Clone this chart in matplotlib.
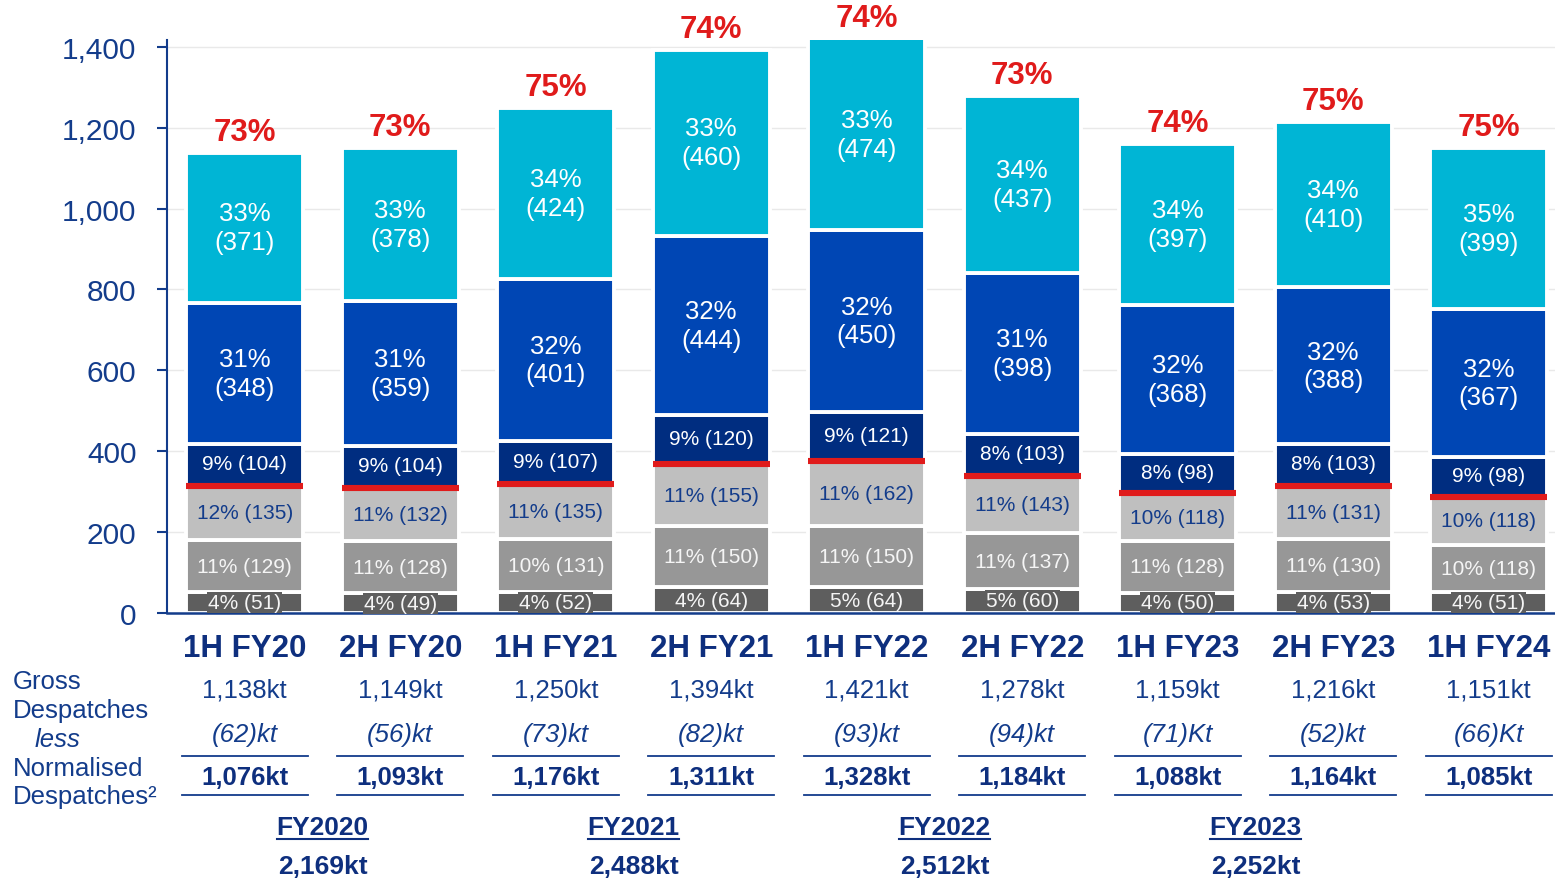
import matplotlib
matplotlib.use("Agg")
import matplotlib.pyplot as plt
import matplotlib.transforms as mtrans
import numpy as np

plt.rcParams['font.family'] = ['Liberation Sans', 'DejaVu Sans']

categories = ['1H FY20', '2H FY20', '1H FY21', '2H FY21', '1H FY22',
              '2H FY22', '1H FY23', '2H FY23', '1H FY24']
dark_gray_vals = [51, 49, 52, 64, 64, 60, 50, 53, 51]
dark_gray_pct = [4, 4, 4, 4, 5, 5, 4, 4, 4]
mid_gray_vals = [129, 128, 131, 150, 150, 137, 128, 130, 118]
mid_gray_pct = [11, 11, 10, 11, 11, 11, 11, 11, 10]
light_gray_vals = [135, 132, 135, 155, 162, 143, 118, 131, 118]
light_gray_pct = [12, 11, 11, 11, 11, 11, 10, 11, 10]
navy_vals = [104, 104, 107, 120, 121, 103, 98, 103, 98]
navy_pct = [9, 9, 9, 9, 9, 8, 8, 8, 9]
blue_vals = [348, 359, 401, 444, 450, 398, 368, 388, 367]
blue_pct = [31, 31, 32, 32, 32, 31, 32, 32, 32]
cyan_vals = [371, 378, 424, 460, 474, 437, 397, 410, 399]
cyan_pct = [33, 33, 34, 33, 33, 34, 34, 34, 35]
top_pct = [73, 73, 75, 74, 74, 73, 74, 75, 75]

gross = ['1,138kt', '1,149kt', '1,250kt', '1,394kt', '1,421kt',
         '1,278kt', '1,159kt', '1,216kt', '1,151kt']
less_vals = ['(62)kt', '(56)kt', '(73)kt', '(82)kt', '(93)kt',
             '(94)kt', '(71)Kt', '(52)kt', '(66)Kt']
normalised = ['1,076kt', '1,093kt', '1,176kt', '1,311kt', '1,328kt',
              '1,184kt', '1,088kt', '1,164kt', '1,085kt']
fy_labels = ['FY2020', 'FY2021', 'FY2022', 'FY2023']
fy_totals = ['2,169kt', '2,488kt', '2,512kt', '2,252kt']
fy_pairs = [(0, 1), (2, 3), (4, 5), (6, 7)]
yticks = [0, 200, 400, 600, 800, 1000, 1200, 1400]

NAVY = '#133C8B'
NAVY_D = '#0E2F7E'
C_DG = '#5E5E5E'
C_MG = '#979797'
C_LG = '#BFBFBF'
C_NV = '#002D80'
C_BL = '#0046B4'
C_CY = '#00B5D5'
RED = '#E01B1B'

W, H = 1555, 879
fig = plt.figure(figsize=(W / 100, H / 100), dpi=100)
ax = fig.add_axes([167 / W, (H - 614) / H, (W - 167) / W, (614 - 41) / H])

x = np.arange(len(categories))
bw = 0.75
layers = [
    (dark_gray_vals, dark_gray_pct, C_DG),
    (mid_gray_vals, mid_gray_pct, C_MG),
    (light_gray_vals, light_gray_pct, C_LG),
    (navy_vals, navy_pct, C_NV),
    (blue_vals, blue_pct, C_BL),
    (cyan_vals, cyan_pct, C_CY),
]
bottom = np.zeros(len(x))
bottoms = []
for vals, pcts, col in layers:
    v = np.array(vals, dtype=float)
    ax.bar(x, v, bw, bottom=bottom, color=col, edgecolor='white',
           linewidth=2.8, zorder=2)
    bottoms.append(bottom.copy())
    bottom = bottom + v
totals = bottom

# red separator line at top of light-gray segment
sep = bottoms[3]
for xi, yi in zip(x, sep):
    ax.plot([xi - bw / 2, xi + bw / 2], [yi, yi], color=RED, lw=4.4,
            solid_capstyle='butt', zorder=3)

# segment labels
for li, (vals, pcts, col) in enumerate(layers):
    for i in range(len(x)):
        yc = bottoms[li][i] + vals[i] / 2
        if li == 0:
            ax.text(x[i], yc, f'{pcts[i]}% ({vals[i]})', ha='center', va='center',
                    fontsize=15, color='#F5F5F5', zorder=5,
                    bbox=dict(boxstyle='square,pad=0.05', fc=C_DG, ec='none'))
        elif li == 1:
            ax.text(x[i], yc, f'{pcts[i]}% ({vals[i]})', ha='center', va='center',
                    fontsize=15, color='#F5F5F5', zorder=5)
        elif li == 2:
            ax.text(x[i], yc, f'{pcts[i]}% ({vals[i]})', ha='center', va='center',
                    fontsize=15, color=NAVY, zorder=5)
        elif li == 3:
            ax.text(x[i], yc + 3, f'{pcts[i]}% ({vals[i]})', ha='center', va='center',
                    fontsize=15, color='white', zorder=5)
        else:
            ax.text(x[i], yc, f'{pcts[i]}%\n({vals[i]})', ha='center', va='center',
                    fontsize=18.5, color='white', linespacing=1.25, zorder=5)

for i in range(len(x)):
    ax.annotate(f'{top_pct[i]}%', (x[i], totals[i]), xytext=(0, 15),
                textcoords='offset points', ha='center', va='center',
                fontsize=22.5, fontweight='bold', color=RED, zorder=5,
                annotation_clip=False)

ax.set_xlim(-0.5, -0.5 + (W - 167) / 155.5)
ax.set_ylim(0, 1417)
ax.set_yticks(yticks)
ax.set_yticklabels([f'{t:,}' for t in yticks])
ax.tick_params(axis='y', colors=NAVY, labelsize=21.5, length=7, width=1.5,
               pad=15, labelcolor=NAVY)
ax.set_xticks([])
for s in ['top', 'right']:
    ax.spines[s].set_visible(False)
ax.spines['left'].set_color(NAVY)
ax.spines['left'].set_linewidth(1.5)
ax.spines['bottom'].set_color(NAVY)
ax.spines['bottom'].set_linewidth(1.8)
ax.yaxis.grid(True, color='#E9E9E9', lw=1.0)
ax.set_axisbelow(True)

tr = mtrans.blended_transform_factory(ax.transData, fig.transFigure)

def fy(px):
    return 1 - px / H

for i in range(len(x)):
    ax.text(x[i], fy(649), categories[i], transform=tr, ha='center', va='center',
            fontsize=22.5, fontweight='bold', color=NAVY_D, clip_on=False)
    ax.text(x[i], fy(691), gross[i], transform=tr, ha='center', va='center',
            fontsize=18.5, color=NAVY, clip_on=False)
    ax.text(x[i], fy(735), less_vals[i], transform=tr, ha='center', va='center',
            fontsize=18.5, style='italic', color=NAVY, clip_on=False)
    ax.text(x[i], fy(778), normalised[i], transform=tr, ha='center', va='center',
            fontsize=18.5, fontweight='bold', color=NAVY_D, clip_on=False)
    for ly in (757, 796):
        ax.plot([x[i] - 0.405, x[i] + 0.405], [fy(ly), fy(ly)], transform=tr,
                color=NAVY, lw=1.3, clip_on=False)

for (a, b), lab, tot in zip(fy_pairs, fy_labels, fy_totals):
    xc = (x[a] + x[b]) / 2
    ax.text(xc, fy(828), lab, transform=tr, ha='center', va='center',
            fontsize=19, fontweight='bold', color=NAVY_D, clip_on=False)
    ax.text(xc, fy(867), tot, transform=tr, ha='center', va='center',
            fontsize=19, fontweight='bold', color=NAVY_D, clip_on=False)
    ax.plot([xc - 0.295, xc + 0.295], [fy(840), fy(840)], transform=tr,
            color=NAVY_D, lw=1.5, clip_on=False)

left_lines = [('Gross', 13, 682, 'normal'), ('Despatches', 13, 711, 'normal'),
              ('less', 35, 740, 'italic'), ('Normalised', 13, 769, 'normal'),
              ('Despatches²', 13, 797, 'normal')]
for txt, px, py, st in left_lines:
    fig.text(px / W, fy(py), txt, ha='left', va='center', fontsize=18.5,
             style=st, color=NAVY)

fig.savefig('out.png', dpi=100)
